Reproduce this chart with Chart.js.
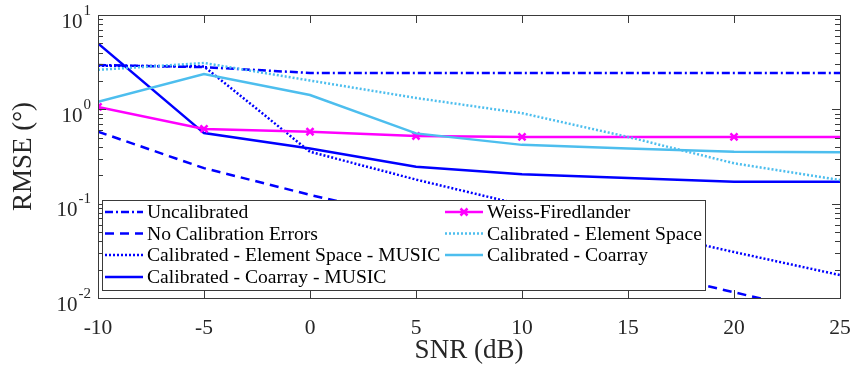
<!DOCTYPE html>
<html>
<head>
<meta charset="utf-8">
<script src="https://cdn.jsdelivr.net/npm/chart.js@4.4.1/dist/chart.umd.min.js"></script>
<style>
  html, body { margin: 0; padding: 0; background: #fff; }
</style>
</head>
<body>
<canvas id="myChart" width="857" height="371"></canvas>
<script>
// SNR (dB) grid shared by every curve
const snr = [-10, -5, 0, 5, 10, 15, 20, 25];

const uncalibrated   = [2.95, 2.8, 2.43, 2.43, 2.43, 2.43, 2.43, 2.43];
const noCalErrors    = [0.58, 0.238, 0.124, 0.068, 0.038, 0.021, 0.0115, 0.0063];
const calElemMusic   = [2.9, 2.85, 0.355, 0.18, 0.097, 0.055, 0.0307, 0.0175];
const calCoarrMusic  = [5.0, 0.56, 0.385, 0.246, 0.205, 0.187, 0.171, 0.171];
const weissFried     = [1.06, 0.62, 0.579, 0.522, 0.51, 0.51, 0.51, 0.51];
const calElem        = [2.62, 3.1, 2.02, 1.32, 0.91, 0.51, 0.268, 0.178];
const calCoarr       = [1.2, 2.37, 1.42, 0.556, 0.42, 0.384, 0.355, 0.35];

// markers shown only at these SNR values for Weiss-Firedlander
const weissMarkerAt = [-10, -5, 0, 5, 10, 20];

const xTicks = [-10, -5, 0, 5, 10, 15, 20, 25];
const yExponents = [-2, -1, 0, 1];

const serif = "'Liberation Serif', 'Times New Roman', serif";
const axisColor = "#3a3a3a";
const blue = "#0000ff";
const magenta = "#ff00ff";
const lightBlue = "#4dbeee";

function pts(vals) {
  return snr.map((x, i) => ({ x: x, y: vals[i] }));
}

const datasets = [
  { label: "Uncalibrated", data: pts(uncalibrated), borderColor: blue, borderDash: [8, 3, 2, 3] },
  { label: "No Calibration Errors", data: pts(noCalErrors), borderColor: blue, borderDash: [9, 6] },
  { label: "Calibrated - Element Space - MUSIC", data: pts(calElemMusic), borderColor: blue, borderDash: [2, 2] },
  { label: "Calibrated - Coarray - MUSIC", data: pts(calCoarrMusic), borderColor: blue, borderDash: [] },
  {
    label: "Weiss-Firedlander", data: pts(weissFried), borderColor: magenta, borderDash: [],
    pointStyle: "crossRot", pointBorderColor: magenta, pointBorderWidth: 2.5,
    pointRadius: snr.map(x => weissMarkerAt.includes(x) ? 5 : 0)
  },
  { label: "Calibrated - Element Space", data: pts(calElem), borderColor: lightBlue, borderDash: [2, 2] },
  { label: "Calibrated - Coarray", data: pts(calCoarr), borderColor: lightBlue, borderDash: [] },
];
datasets.forEach((d, i) => {
  d.borderWidth = 2.5;
  d.tension = 0;
  d.fill = false;
  if (d.pointRadius === undefined) d.pointRadius = 0;
  d.order = datasets.length - i;
});

// MATLAB-like legend: two columns inside a box
const legendCols = [[0, 1, 2, 3], [4, 5, 6]];

const boxPlugin = {
  id: "matlabBox",
  afterDatasetsDraw(chart) {
    const ctx = chart.ctx;
    const a = chart.chartArea;
    const xs = chart.scales.x, ys = chart.scales.y;
    ctx.save();
    ctx.strokeStyle = axisColor;
    ctx.lineWidth = 1;
    ctx.beginPath();
    xTicks.forEach(v => {
      const px = Math.round(xs.getPixelForValue(v)) + 0.5;
      ctx.moveTo(px, a.bottom); ctx.lineTo(px, a.bottom - 8);
      ctx.moveTo(px, a.top); ctx.lineTo(px, a.top + 8);
    });
    for (let e = -2; e <= 1; e++) {
      for (let m = 1; m <= 9; m++) {
        const v = m * Math.pow(10, e);
        if (v > 10.0001) continue;
        const py = Math.round(ys.getPixelForValue(v)) + 0.5;
        const len = m === 1 ? 8 : 5;
        ctx.moveTo(a.left, py); ctx.lineTo(a.left + len, py);
        ctx.moveTo(a.right, py); ctx.lineTo(a.right - len, py);
      }
    }
    ctx.stroke();
    ctx.strokeRect(Math.round(a.left) + 0.5, Math.round(a.top) + 0.5,
      Math.round(a.right - a.left), Math.round(a.bottom - a.top));

    // y tick labels 10^n
    ctx.fillStyle = "#262626";
    ctx.textBaseline = "alphabetic";
    yExponents.forEach(e => {
      const py = ys.getPixelForValue(Math.pow(10, e));
      const base = "10", sup = String(e);
      ctx.font = "21px " + serif;
      const wb = ctx.measureText(base).width;
      ctx.font = "15px " + serif;
      const ws = ctx.measureText(sup).width;
      const x0 = a.left - 7 - wb - ws - 1;
      ctx.font = "21px " + serif;
      ctx.textAlign = "left";
      ctx.fillText(base, x0, py + 12.5);
      ctx.font = "15px " + serif;
      ctx.fillText(sup, x0 + wb + 1, py - 0.5);
    });

    // legend
    const lx = 102.5, ly = 200.5, lw = 603, lh = 90;
    ctx.fillStyle = "#fff";
    ctx.fillRect(lx, ly, lw, lh);
    ctx.strokeStyle = axisColor;
    ctx.strokeRect(lx, ly, lw, lh);
    const rowY = [212, 233.5, 255, 277];
    const colX = [105, 445];
    ctx.font = "19.6px " + serif;
    ctx.textBaseline = "middle";
    ctx.textAlign = "left";
    legendCols.forEach((col, c) => {
      col.forEach((di, r) => {
        const d = chart.data.datasets[di];
        const y = rowY[r];
        const x1 = colX[c], x2 = colX[c] + 38;
        ctx.save();
        ctx.strokeStyle = d.borderColor;
        ctx.lineWidth = d.borderWidth;
        ctx.setLineDash(d.borderDash);
        ctx.beginPath();
        ctx.moveTo(x1, y); ctx.lineTo(x2, y);
        ctx.stroke();
        ctx.restore();
        if (d.pointStyle === "crossRot") {
          ctx.save();
          ctx.strokeStyle = d.pointBorderColor;
          ctx.lineWidth = 2.5;
          const cx = (x1 + x2) / 2, r0 = 3.5;
          ctx.beginPath();
          ctx.moveTo(cx - r0, y - r0); ctx.lineTo(cx + r0, y + r0);
          ctx.moveTo(cx - r0, y + r0); ctx.lineTo(cx + r0, y - r0);
          ctx.stroke();
          ctx.restore();
        }
        ctx.fillStyle = "#000";
        ctx.fillText(d.label, x2 + 4, y + 1);
      });
    });
    ctx.restore();
  }
};

const ctx = document.getElementById("myChart");
const myChart = new Chart(ctx, {
  type: "line",
  data: { datasets: datasets },
  plugins: [boxPlugin],
  options: {
    responsive: false,
    animation: false,
    events: [],
    layout: { padding: { left: 0, right: 17, top: 15, bottom: 0 } },
    plugins: { legend: { display: false }, tooltip: { enabled: false } },
    scales: {
      x: {
        type: "linear",
        min: -10,
        max: 25,
        afterBuildTicks: s => { s.ticks = xTicks.map(v => ({ value: v })); },
        afterFit: s => { s.height = 73; s.paddingLeft = 0; s.paddingRight = 0; },
        grid: { display: false, drawTicks: false },
        border: { display: false },
        ticks: { color: "#262626", font: { family: serif, size: 21.5 }, padding: 17, maxRotation: 0 },
        title: { display: true, text: "SNR (dB)", color: "#262626",
                 font: { family: serif, size: 27 }, padding: { top: 0, bottom: 4 } }
      },
      y: {
        type: "logarithmic",
        min: 0.01,
        max: 10,
        afterFit: s => { s.width = 98; s.paddingTop = 0; s.paddingBottom = 0; },
        grid: { display: false, drawTicks: false },
        border: { display: false },
        ticks: { display: false },
        title: { display: true, text: "RMSE (°)", color: "#262626",
                 font: { family: serif, size: 27 }, padding: { top: 8, bottom: 0 } }
      }
    }
  }
});
</script>
</body>
</html>
